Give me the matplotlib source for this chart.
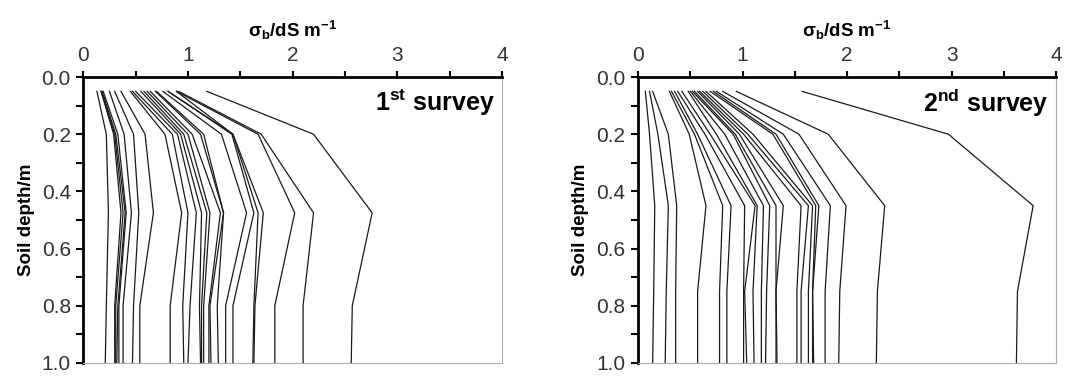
import matplotlib.pyplot as plt
import numpy as np

plt.rcParams['font.family'] = ['Liberation Sans', 'DejaVu Sans']
plt.rcParams['mathtext.fontset'] = 'custom'
plt.rcParams['mathtext.rm'] = 'Liberation Sans'
plt.rcParams['mathtext.it'] = 'Liberation Sans:italic'
plt.rcParams['mathtext.bf'] = 'Liberation Sans:bold'

# survey 1: depth nodes (m) and sigma_b profiles (dS/m), one row per site
depth_1 = [0.05, 0.2, 0.475, 0.8, 1.0]
sigma_1 = [
    [0.13, 0.22, 0.24, 0.22, 0.21],
    [0.17, 0.29, 0.36, 0.30, 0.30],
    [0.17, 0.30, 0.38, 0.31, 0.31],
    [0.18, 0.31, 0.40, 0.33, 0.32],
    [0.19, 0.33, 0.41, 0.34, 0.34],
    [0.25, 0.39, 0.46, 0.38, 0.38],
    [0.30, 0.48, 0.53, 0.48, 0.47],
    [0.36, 0.59, 0.67, 0.54, 0.54],
    [0.45, 0.78, 0.94, 0.83, 0.83],
    [0.47, 0.85, 1.00, 0.95, 0.96],
    [0.50, 0.90, 1.08, 1.02, 1.00],
    [0.55, 0.93, 1.13, 1.11, 1.12],
    [0.58, 0.96, 1.18, 1.13, 1.13],
    [0.61, 1.00, 1.21, 1.15, 1.15],
    [0.64, 1.04, 1.31, 1.20, 1.20],
    [0.69, 1.12, 1.34, 1.21, 1.22],
    [0.70, 1.15, 1.34, 1.28, 1.29],
    [0.76, 1.32, 1.56, 1.36, 1.36],
    [0.81, 1.42, 1.63, 1.43, 1.43],
    [0.81, 1.43, 1.67, 1.63, 1.62],
    [0.89, 1.43, 1.72, 1.64, 1.63],
    [0.89, 1.67, 2.02, 1.83, 1.83],
    [0.91, 1.70, 2.20, 2.10, 2.10],
    [1.18, 2.20, 2.76, 2.57, 2.56],
]

# survey 2
depth_2 = [0.05, 0.2, 0.45, 0.75, 1.0]
sigma_2 = [
    [0.07, 0.11, 0.16, 0.15, 0.14],
    [0.11, 0.19, 0.29, 0.27, 0.26],
    [0.14, 0.29, 0.37, 0.36, 0.36],
    [0.30, 0.49, 0.65, 0.57, 0.57],
    [0.32, 0.54, 0.81, 0.78, 0.78],
    [0.35, 0.57, 0.89, 0.85, 0.85],
    [0.38, 0.64, 1.02, 1.01, 1.01],
    [0.42, 0.69, 1.12, 1.02, 1.04],
    [0.48, 0.75, 1.14, 1.10, 1.11],
    [0.50, 0.83, 1.20, 1.18, 1.18],
    [0.52, 0.91, 1.26, 1.23, 1.22],
    [0.54, 0.93, 1.32, 1.32, 1.32],
    [0.57, 0.97, 1.39, 1.32, 1.33],
    [0.59, 1.01, 1.56, 1.52, 1.52],
    [0.62, 1.05, 1.63, 1.56, 1.56],
    [0.65, 1.10, 1.67, 1.63, 1.63],
    [0.69, 1.29, 1.70, 1.67, 1.67],
    [0.72, 1.32, 1.73, 1.67, 1.68],
    [0.75, 1.39, 1.84, 1.79, 1.79],
    [0.81, 1.54, 1.99, 1.93, 1.92],
    [0.94, 1.82, 2.36, 2.29, 2.28],
    [1.57, 2.97, 3.78, 3.63, 3.62],
]

x_ticks = [0, 1, 2, 3, 4]
y_ticks = [0.0, 0.2, 0.4, 0.6, 0.8, 1.0]
survey_labels = [r'1$^{\mathbf{st}}$ survey', r'2$^{\mathbf{nd}}$ survey']


def draw_panel(ax, depth, sigma, label):
    for prof in sigma:
        ax.plot(prof, depth, color='#1a1a1a', lw=0.9)
    ax.set_xlim(0, 4)
    ax.set_ylim(1.0, 0.0)
    ax.xaxis.tick_top()
    ax.xaxis.set_label_position('top')
    ax.set_xticks(x_ticks)
    ax.set_xticks(np.arange(0, 4.01, 0.5), minor=True)
    ax.set_yticks(y_ticks)
    ax.set_yticklabels(['%.1f' % v for v in y_ticks])
    ax.set_yticks(np.arange(0, 1.01, 0.1), minor=True)
    ax.tick_params(axis='x', which='both', direction='out', length=4, width=1.5,
                   labelsize=15, pad=5, labelcolor='#333333')
    ax.tick_params(axis='y', which='both', direction='out', length=5, width=1.5,
                   labelsize=15, pad=4, labelcolor='#333333')
    ax.set_xlabel(r'$\mathbf{\sigma_b}$/dS m$^{\mathbf{-1}}$', fontsize=13.5,
                  fontweight='bold', labelpad=6)
    ax.set_ylabel('Soil depth/m', fontsize=13.5, fontweight='bold', labelpad=5)
    ax.spines['left'].set_linewidth(2)
    ax.spines['top'].set_linewidth(2)
    ax.spines['right'].set_color('#aaaaaa')
    ax.spines['bottom'].set_color('#aaaaaa')
    ax.spines['right'].set_linewidth(0.8)
    ax.spines['bottom'].set_linewidth(0.8)
    ax.text(3.93, 0.09, label, fontsize=18, fontweight='bold',
            ha='right', va='center')


fig = plt.figure(figsize=(10.86, 3.76), dpi=100)
ax1 = fig.add_axes([0.0767, 0.035, 0.3855, 0.760])
ax2 = fig.add_axes([0.5875, 0.035, 0.3850, 0.760])
draw_panel(ax1, depth_1, sigma_1, survey_labels[0])
draw_panel(ax2, depth_2, sigma_2, survey_labels[1])

plt.savefig('out.png', dpi=100)
